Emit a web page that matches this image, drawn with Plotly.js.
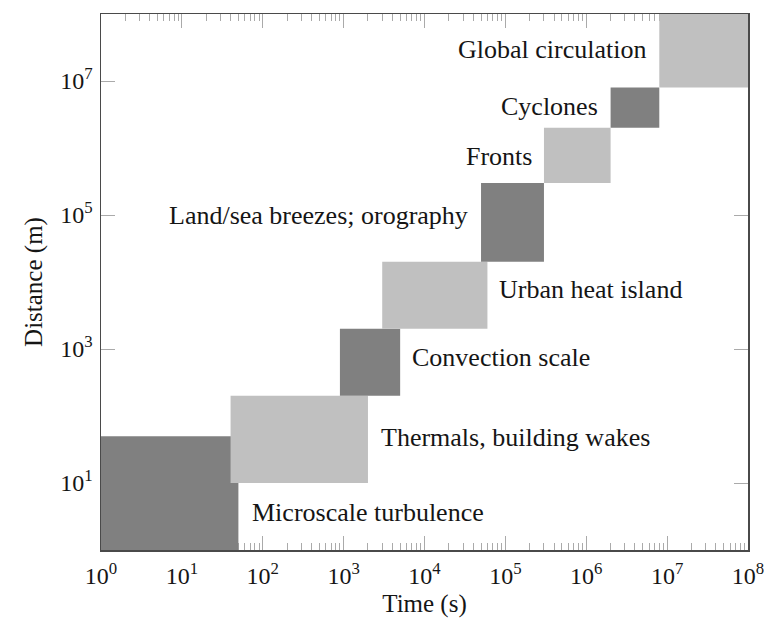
<!DOCTYPE html>
<html>
<head>
<meta charset="utf-8">
<script src="https://cdn.plot.ly/plotly-3.0.1.min.js"></script>
<style>html,body{margin:0;padding:0;background:#fff;}#chart{width:764px;height:623px;}</style>
</head>
<body>
<div id="chart"></div>
<script>
// Phenomena: time span (s) and distance span (m)
const phenomena = ['Microscale turbulence','Thermals, building wakes','Convection scale','Urban heat island','Land/sea breezes; orography','Fronts','Cyclones','Global circulation'];
const timeMin = [1, 40, 900, 3000, 5e4, 3e5, 2e6, 8e6];
const timeMax = [50, 2000, 5000, 6e4, 3e5, 2e6, 8e6, 1e8];
const distMin = [1, 10, 200, 2000, 2e4, 3e5, 2e6, 8e6];
const distMax = [50, 200, 2000, 2e4, 3e5, 2e6, 8e6, 1e8];
const shade = ['dark','light','dark','light','dark','light','dark','light'];

// Label anchor points (data coordinates) and alignment
const labelTime = [70, 2700, 6600, 7.9e4, 3.65e4, 2.26e5, 1.5e6, 5.8e6];
const labelDist = [3.6, 48, 750, 7600, 1e5, 7.5e5, 4.2e6, 3e7];
const labelAlign = ['left','left','left','left','right','right','right','right'];

// Axis ticks
const xTickVals = [1,10,100,1e3,1e4,1e5,1e6,1e7,1e8];
const xTickText = ['10<sup>0</sup>','10<sup>1</sup>','10<sup>2</sup>','10<sup>3</sup>','10<sup>4</sup>','10<sup>5</sup>','10<sup>6</sup>','10<sup>7</sup>','10<sup>8</sup>'];
const yTickVals = [10,1e3,1e5,1e7];
const yTickText = ['10<sup>1</sup>','10<sup>3</sup>','10<sup>5</sup>','10<sup>7</sup>'];
const minorMultipliers = [2,3,4,5,6,7,8,9];

const colors = {dark:'#808080', light:'#c0c0c0'};

const traces = phenomena.map((name, i) => ({
  type:'scatter', mode:'lines', name:name,
  x:[timeMin[i], timeMax[i], timeMax[i], timeMin[i], timeMin[i]],
  y:[distMin[i], distMin[i], distMax[i], distMax[i], distMin[i]],
  fill:'toself', fillcolor:colors[shade[i]],
  line:{width:0, color:colors[shade[i]]},
  hoverinfo:'name', showlegend:false
}));

const minorVals = [];
xTickVals.slice(0,-1).forEach(d => minorMultipliers.forEach(m => minorVals.push(d*m)));

const annotations = phenomena.map((name, i) => ({
  x: Math.log10(labelTime[i]), y: Math.log10(labelDist[i]),
  xref:'x', yref:'y', text:name, showarrow:false,
  xanchor: labelAlign[i], yanchor:'middle',
  font:{family:'Liberation Serif, Times New Roman, serif', size:26, color:'#151515'}
}));

const layout = {
  width:764, height:623,
  margin:{l:101, r:16, t:14, b:73},
  paper_bgcolor:'#fff', plot_bgcolor:'#fff',
  font:{family:'Liberation Serif, Times New Roman, serif', color:'#151515'},
  showlegend:false,
  xaxis:{
    type:'log', range:[0,8], tickmode:'array', tickvals:xTickVals, ticktext:xTickText,
    ticks:'inside', ticklen:14, tickwidth:1, tickcolor:'#aaaaaa',
    minor:{tickmode:'array', tickvals:minorVals, ticks:'inside', ticklen:7, tickwidth:1, tickcolor:'#aaaaaa', showgrid:false},
    showline:true, linecolor:'#4a4a4a', linewidth:1.5, mirror:'ticks',
    showgrid:false, zeroline:false, layer:'below traces',
    tickfont:{size:24}, ticklabelstandoff:4, ticklabeloverflow:'allow', automargin:false,
    title:{text:'Time (s)', font:{size:25}, standoff:6}
  },
  yaxis:{
    type:'log', range:[0,8], tickmode:'array', tickvals:yTickVals, ticktext:yTickText,
    ticks:'inside', ticklen:14, tickwidth:1, tickcolor:'#aaaaaa',
    showline:true, linecolor:'#4a4a4a', linewidth:1.5, mirror:'ticks',
    showgrid:false, zeroline:false, layer:'below traces',
    tickfont:{size:24}, ticklabelstandoff:2, automargin:false,
    title:{text:'Distance (m)', font:{size:25}, standoff:10}
  },
  annotations:annotations
};

Plotly.newPlot('chart', traces, layout, {staticPlot:true, displayModeBar:false});
</script>
</body>
</html>
